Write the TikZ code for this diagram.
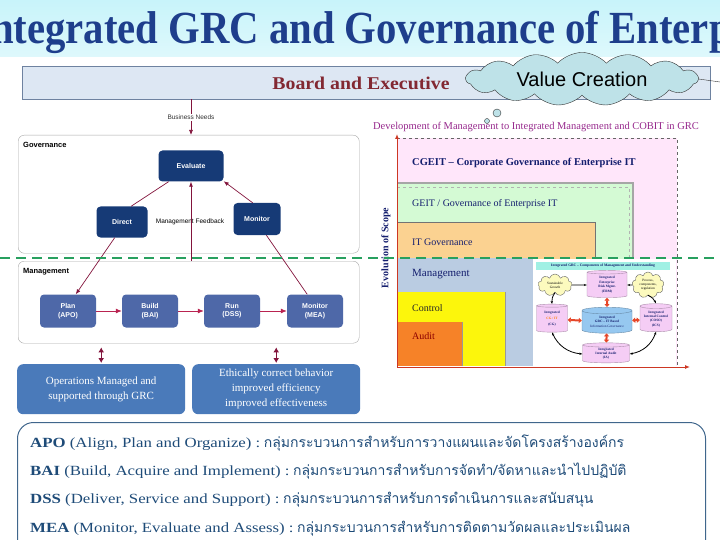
\documentclass[tikz,border=0pt]{standalone}
\usepackage{fontspec}
\setmainfont{Liberation Serif}
\setsansfont{Liberation Sans}
\newfontfamily\thaifont[Script=Thai]{Loma}
\usepackage{xcolor}
\usepackage{tikz}
\usetikzlibrary{shapes.symbols,shapes.geometric,arrows.meta,positioning}

\definecolor{titleblue}{RGB}{30,62,140}
\definecolor{bandcyan}{RGB}{200,244,250}
\definecolor{boardfill}{RGB}{221,231,243}
\definecolor{boardline}{RGB}{110,130,160}
\definecolor{boardred}{RGB}{130,40,50}
\definecolor{cloudfill}{RGB}{190,226,232}
\definecolor{govnavy}{RGB}{22,58,118}
\definecolor{mgmtblue}{RGB}{78,104,168}
\definecolor{linkred}{RGB}{130,20,60}
\definecolor{flowred}{RGB}{185,35,80}
\definecolor{opsblue}{RGB}{74,122,186}
\definecolor{dashgreen}{RGB}{40,160,95}
\definecolor{devpurple}{RGB}{150,40,140}
\definecolor{axisred}{RGB}{205,55,35}
\definecolor{cgeitpink}{RGB}{255,230,250}
\definecolor{geitgreen}{RGB}{212,250,212}
\definecolor{itgorange}{RGB}{251,210,145}
\definecolor{mgmtgray}{RGB}{186,204,226}
\definecolor{ctrlyellow}{RGB}{252,246,12}
\definecolor{auditorange}{RGB}{246,130,40}
\definecolor{textnavy}{RGB}{20,30,110}
\definecolor{legendblue}{RGB}{30,75,120}
\definecolor{cylpink}{RGB}{245,205,245}
\definecolor{cylblue}{RGB}{150,200,240}
\definecolor{ideayellow}{RGB}{252,250,190}
\definecolor{insetcyan}{RGB}{160,240,228}
\definecolor{insetarrow}{RGB}{230,70,40}

\begin{document}
\begin{tikzpicture}[x=1pt,y=-1pt,
    govbox/.style={fill=govnavy, rounded corners=4pt, text=white, font=\sffamily\bfseries\fontsize{7}{8}\selectfont, align=center, inner sep=0},
    procbox/.style={fill=mgmtblue, rounded corners=4pt, text=white, font=\sffamily\bfseries\fontsize{7}{8.5}\selectfont, align=center, minimum width=56pt, minimum height=33pt, inner sep=0},
    areabox/.style={draw=black!35, rounded corners=6pt, anchor=north west, inner sep=0},
    areatitle/.style={font=\sffamily\bfseries\fontsize{7.5}{8}\selectfont, anchor=west, inner sep=0},
    opsbox/.style={fill=opsblue, rounded corners=6pt, text=white, font=\fontsize{11}{15}\selectfont, align=center, minimum width=168pt, minimum height=50pt, anchor=north west, inner sep=0},
    scopetext/.style={anchor=west, inner sep=0, font=\fontsize{10}{10}\selectfont, text=textnavy},
    pinkcyl/.style={cylinder, shape border rotate=90, aspect=0.2, draw=cylpink!70!black, fill=cylpink, align=center, inner sep=0, font=\bfseries\fontsize{3.4}{4}\selectfont, text=textnavy},
    idea/.style={cloud, cloud puffs=9, aspect=1.4, draw=black!60, fill=ideayellow, align=center, inner sep=0, font=\fontsize{3.4}{4}\selectfont},
    linkarrow/.style={linkred, line width=0.7pt, -{Latex[length=5pt,width=4pt]}},
    redpair/.style={insetarrow, line width=2pt, {Triangle[length=3pt,width=5pt]}-{Triangle[length=3pt,width=5pt]}},
    loop/.style={black, line width=0.8pt, -{Stealth[length=3pt]}},
    legendline/.style={anchor=base west, inner sep=0, text=legendblue, font=\fontsize{14}{14}\selectfont}]

\useasboundingbox (0,0) rectangle (720,540);
\clip (0,0) rectangle (720,540);

% title band
\shade[top color=bandcyan, bottom color=bandcyan!60!white] (0,0) rectangle (720,57);
\node[anchor=base west, inner sep=0, text=titleblue] (title) at (-25,44)
    {\scalebox{0.885}[1]{\bfseries\fontsize{46}{46}\selectfont Integrated GRC and Governance of Enterprise IT}};

% board and value creation
\node[draw=boardline, fill=boardfill, minimum width=688pt, minimum height=33pt, anchor=north west, inner sep=0] (board) at (22,66) {};
\node[text=boardred, font=\bfseries\fontsize{18}{18}\selectfont] (boardtxt) at (361,83) {\scalebox{1.1}[1]{Board and Executive}};
\node[cloud, cloud puffs=15, cloud puff arc=95, aspect=5, draw=black!80, fill=cloudfill, minimum width=232pt, minimum height=44pt, inner sep=0,
      font=\sffamily\fontsize{20}{20}\selectfont] (value) at (582,79) {Value Creation};
\node[circle, draw=black!80, fill=cloudfill, minimum size=8pt, inner sep=0] (bubbleA) at (497,113) {};
\node[circle, draw=black!80, fill=cloudfill, minimum size=5pt, inner sep=0] (bubbleB) at (487,121) {};
\coordinate (tail) at (720,82);
\draw[black!80] (value.east) -- (tail);

% governance
\node[areabox, minimum width=341pt, minimum height=118pt] (govarea) at (18,135) {};
\node[areatitle] (govtitle) at (23,145) {Governance};
\node[govbox, minimum width=65pt, minimum height=31pt] (evaluate) at (191,166) {Evaluate};
\node[govbox, minimum width=51pt, minimum height=31pt] (direct) at (122,222) {Direct};
\node[govbox, minimum width=47pt, minimum height=32pt] (monitor) at (257,219) {Monitor};
\node[font=\sffamily\fontsize{6.5}{7}\selectfont, inner sep=0] (feedback) at (190,222) {Management Feedback};

\draw[linkarrow] (board.south -| evaluate) -- node[fill=white, text=black!80, inner sep=1pt, font=\sffamily\fontsize{6.5}{7}\selectfont] (needs) {Business Needs} (govarea.north -| evaluate);

% management
\node[areabox, minimum width=341pt, minimum height=82pt] (mgmtarea) at (18,261) {};
\node[areatitle] (mgmttitle) at (23,272) {Management};
\node[procbox] (plan) at (68,311) {Plan\\(APO)};
\node[procbox] (build) at (150,311) {Build\\(BAI)};
\node[procbox] (run) at (232,311) {Run\\(DSS)};
\node[procbox] (mea) at (315,311) {Monitor\\(MEA)};

\draw[linkred, line width=0.7pt] (direct.60) -- (evaluate.215);
\draw[linkarrow] (monitor.105) -- (evaluate.-25);
\draw[linkarrow] (evaluate.south |- mgmtarea.north) -- (evaluate.south);
\draw[linkarrow] (direct.-115) -- (plan.65);
\draw[linkred, line width=0.7pt] (monitor.-60) -- (mea.115);
\foreach \a/\b in {plan/build, build/run, run/mea}
    \draw[flowred, line width=0.8pt, -{Latex[length=6pt,width=5pt]}] (\a) -- (\b);

% outcomes
\node[opsbox] (ops) at (17,364) {Operations Managed and\\supported through GRC};
\node[opsbox] (ethics) at (192,364) {Ethically correct behavior\\improved efficiency\\improved effectiveness};
\draw[linkred, line width=1.2pt, {Latex[length=5pt,width=6pt]}-{Latex[length=5pt,width=6pt]}, shorten <=4pt, shorten >=1pt] (ops.north |- mgmtarea.south) -- (ops.north);
\draw[linkred, line width=1.2pt, {Latex[length=5pt,width=6pt]}-{Latex[length=5pt,width=6pt]}, shorten <=4pt, shorten >=1pt] (ethics.north |- mgmtarea.south) -- (ethics.north);

% evolution of scope
\node[text=devpurple, font=\fontsize{10.5}{11}\selectfont] (devtitle) at (536,127) {Development of Management to Integrated Management and COBIT in GRC};
\fill[cgeitpink] (397,138) rectangle (677,366);
\draw[black!60, dashed, line width=0.8pt] (397,138) -- (677,138) -- (677,366);
\fill[geitgreen] (397,183) rectangle (633,366);
\draw[black!35, line width=1.2pt] (397,183) -- (633,183) -- (633,366);
\draw[black!30, dashed] (397,187) -- (629,187) -- (629,366);
\fill[itgorange] (397,223) rectangle (595,366);
\draw[black!55, line width=1pt] (397,223) -- (595,223) -- (595,366);
\fill[mgmtgray] (397,258) rectangle (533,366);
\fill[ctrlyellow] (397,292) rectangle (505,366);
\draw[black!40] (505,292) -- (505,366);
\fill[auditorange] (397,322) rectangle (462,366);
\draw[black!40] (462,322) -- (462,366);

\node[scopetext, font=\bfseries\fontsize{10.5}{11}\selectfont] (cgeit) at (412,163) {CGEIT -- Corporate Governance of Enterprise IT};
\node[scopetext] (geit) at (412,204) {GEIT / Governance of Enterprise IT};
\node[scopetext] (itgov) at (412,242) {IT Governance};
\node[scopetext, font=\fontsize{11}{11}\selectfont] (mgmtscope) at (412,274) {Management};
\node[scopetext, text=black!85] (control) at (412,308) {Control};
\node[scopetext, text=red!55!black] (audit) at (412,336) {Audit};

% integrated GRC inset
\fill[white] (533,259) rectangle (676,366);
\node[fill=insetcyan, minimum width=134pt, minimum height=8pt, inner sep=0, text=textnavy, font=\bfseries\fontsize{3.6}{4}\selectfont] (insettitle) at (603,266) {Integrated GRC -- Components of Management and Understanding};
\node[pinkcyl, minimum width=40pt, minimum height=27pt] (erm) at (607,285) {Integrated\\[1pt]Enterprise\\Risk Mgmt.\\[1pt](ERM)};
\node[pinkcyl, minimum width=31pt, minimum height=28pt] (cgit) at (552,319) {Integrated\\[2pt]{\color{orange}CG / IT}\\[2pt](CG)};
\node[pinkcyl, minimum width=32pt, minimum height=28pt] (icontrol) at (656,319) {Integrated\\Internal Control\\(COSO)\\[1pt](ICS)};
\node[pinkcyl, minimum width=47pt, minimum height=20pt] (iaudit) at (606,354) {Integrated\\Internal Audit\\(IA)};
\node[pinkcyl, fill=cylblue, draw=cylblue!70!black, minimum width=50pt, minimum height=26pt] (grcit) at (607,322) {Integrated\\GRC -- IT Based\\[1pt]{\mdseries Information Governance}};
\node[idea, minimum width=34pt, minimum height=22pt] (growth) at (555,285) {Sustainable\\Growth};
\node[idea, minimum width=32pt, minimum height=26pt] (process) at (648,285) {Process,\\components,\\regulation};

\draw[redpair] (erm) -- (grcit);
\draw[redpair] (iaudit) -- (grcit);
\draw[redpair] (cgit) -- (grcit);
\draw[redpair] (icontrol) -- (grcit);
\draw[loop] (growth.east) -- (erm.west);
\draw[loop] (process.west) -- (erm.east);
\draw[loop] (growth.south) to[bend right=20] (cgit.north);
\draw[loop] (process.south) to[bend left=20] (icontrol.north);
\draw[loop, {Stealth[length=3pt]}-{Stealth[length=3pt]}] (cgit.south) to[bend right=30] (iaudit.west);
\draw[loop, {Stealth[length=3pt]}-{Stealth[length=3pt]}] (iaudit.east) to[bend right=30] (icontrol.south);

% axes
\coordinate (origin) at (397,367);
\coordinate (scopetop) at (397,134);
\coordinate (scoperight) at (690,367);
\draw[axisred, line width=1pt, -{Latex[length=5pt,width=4pt]}] (origin) -- (scopetop);
\draw[axisred, line width=1pt, -{Latex[length=5pt,width=4pt]}] (origin) -- (scoperight);
\node[rotate=90, text=textnavy, font=\bfseries\fontsize{10}{10}\selectfont] (scopelabel) at (386,248) {Evolution of Scope};

% governance / management divide
\coordinate (divleft) at (0,258);
\coordinate (divright) at (720,258);
\draw[dashgreen, line width=2.2pt, dash pattern=on 10pt off 6pt] (divleft) -- (divright);

% legend
\node[draw=legendblue!85, line width=1pt, rounded corners=16pt, minimum width=688pt, minimum height=150pt, anchor=north west, inner sep=0] (legend) at (17,422) {};
\node[legendline] (apo) at (30,447) {\scalebox{1.2}[1]{\textbf{APO} (Align, Plan and Organize) :} {\thaifont กลุ่มกระบวนการสำหรับการวางแผนและจัดโครงสร้างองค์กร}};
\node[legendline] (bai) at (30,475) {\scalebox{1.2}[1]{\textbf{BAI} (Build, Acquire and Implement) :} {\thaifont กลุ่มกระบวนการสำหรับการจัดทำ/จัดหาและนำไปปฏิบัติ}};
\node[legendline] (dss) at (30,503) {\scalebox{1.2}[1]{\textbf{DSS} (Deliver, Service and Support) :} {\thaifont กลุ่มกระบวนการสำหรับการดำเนินการและสนับสนุน}};
\node[legendline] (mealine) at (30,532) {\scalebox{1.2}[1]{\textbf{MEA} (Monitor, Evaluate and Assess) :} {\thaifont กลุ่มกระบวนการสำหรับการติดตามวัดผลและประเมินผล}};

\end{tikzpicture}
\end{document}
